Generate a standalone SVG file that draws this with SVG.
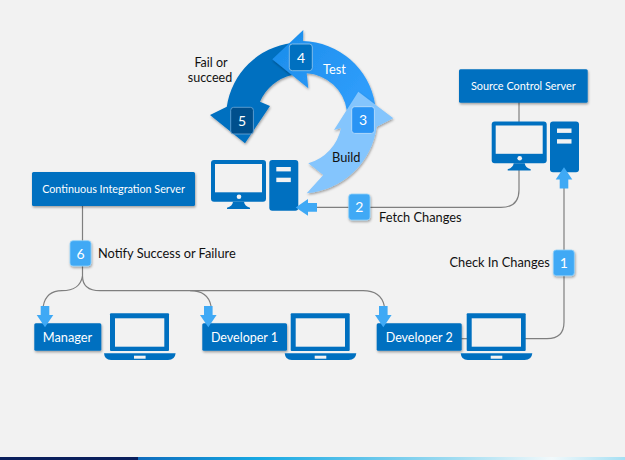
<svg xmlns="http://www.w3.org/2000/svg" width="625" height="460" viewBox="0 0 625 460">
<defs>
<filter id="sh" x="-20%" y="-20%" width="140%" height="150%"><feDropShadow dx="0.7" dy="1.5" stdDeviation="1" flood-color="#000" flood-opacity="0.35"/></filter>
<linearGradient id="strip" x1="0" x2="1" y1="0" y2="0">
<stop offset="0" stop-color="#0f6cbd"/><stop offset="0.25" stop-color="#17a9e3"/><stop offset="0.65" stop-color="#a0dcf1"/><stop offset="0.85" stop-color="#f2f9fb"/><stop offset="1" stop-color="#a5dff3"/>
</linearGradient>
<linearGradient id="testg" x1="0" y1="0" x2="1" y2="0.6"><stop offset="0" stop-color="#1a8cea"/><stop offset="1" stop-color="#2f9dfb"/></linearGradient>
<g id="laptop">
<rect x="0" y="0" width="59" height="37.7" rx="1" fill="#0070c0"/>
<rect x="5" y="5" width="49.3" height="28.4" fill="#f2f2f2"/>
<path d="M-6,40 H65.6 Q65,46.7 58,46.7 H1 Q-5.5,46.7 -6,40 Z" fill="#0070c0"/>
<rect x="24" y="42.4" width="11.6" height="3" fill="#f2f2f2"/>
</g>
<g id="pc">
<rect x="0" y="0" width="55" height="41.7" rx="3" fill="#0070c0"/>
<rect x="4" y="4" width="47" height="28.3" fill="#f2f2f2"/>
<circle cx="28" cy="36.8" r="2.3" fill="#f2f2f2"/>
<path d="M22,41.7 H33 Q33.5,46 39,47.8 V49 H16 V47.8 Q21.5,46 22,41.7 Z" fill="#0070c0"/>
<rect x="58.3" y="0" width="29" height="50.7" rx="3" fill="#0070c0"/>
<rect x="65.3" y="7" width="14.5" height="4.4" fill="#f2f2f2"/>
<rect x="65.3" y="17.7" width="14.5" height="4.4" fill="#f2f2f2"/>
</g>
<path id="down" d="M-4.3,0 H4.3 V9 H8.3 L0,21.3 L-8.3,9 H-4.3 Z" fill="#3fa9f5"/>
</defs>
<style>
.t{font-family:Lato,"Open Sans","Liberation Sans",sans-serif;font-size:12.8px;fill:#111}
.w{font-family:Lato,"Open Sans","Liberation Sans",sans-serif;fill:#fff;text-anchor:middle}
.box{fill:#0070c0;filter:url(#sh)}
.b{fill:#3fa9f5;stroke:#8fd0fa;stroke-width:.8;filter:url(#sh)}
.c{fill:none;stroke:#7f7f7f;stroke-width:1.2}
</style>
<rect width="625" height="460" fill="#f2f2f2"/>
<rect x="0" y="457" width="138" height="3" fill="#0a1f5c"/>
<rect x="138" y="457" width="487" height="3" fill="url(#strip)"/>

<g id="connectors">
<path class="c" d="M519,102 V122"/>
<path class="c" d="M519,170 V190 Q519,207.4 501,207.4 H316"/>
<path class="c" d="M564,188 V322 Q564,338.7 547,338.7 H525"/>
<path class="c" d="M461,338.7 H467"/>
<path class="c" d="M82.5,206 V276 Q82.5,290.7 100,290.7 H363 Q381,290.7 384.3,306"/>
<path class="c" d="M82.5,276 Q80,290.7 62,290.7 Q46,291 43.3,306"/>
<path class="c" d="M190,290.7 Q208,290.7 211,306"/>
</g>

<g id="cycle">
<path filter="url(#sh)" fill="#0070c0" d="M292,43 A75,75 0 0 0 226.800,106.700 L210,115 L245,143.300 L270,106 L260,101.700 A46,46 0 0 1 292,75 Z"/>
<path filter="url(#sh)" fill="url(#testg)" d="M375,104 A75,75 0 0 0 303,41 L303.300,30 L272.300,59.300 L308.300,88.300 L306.700,73.300 A43,43 0 0 1 346.700,110 Z"/>
<path filter="url(#sh)" fill="#84c5fd" d="M306.700,193.300 A77,77 0 0 0 376.700,126.700 L393.300,118.300 L358.300,91.700 L334,130 L341,128 A46,46 0 0 1 308.300,163.300 L323.300,175 Z"/>
<text class="t" x="323" y="74" style="fill:#fff">Test</text>
<text class="t" x="332" y="162">Build</text>
<text class="t" x="211" y="66.500" text-anchor="middle" style="font-size:12.5px">Fail or</text>
<text class="t" x="210" y="81.500" text-anchor="middle" style="font-size:12.5px">succeed</text>
</g>

<g id="badge-5"><rect x="230.700" y="107.300" width="22.700" height="26.700" rx="3" fill="#004f8c" stroke="#6fa9d8" stroke-width=".8"/><text class="w" x="242" y="125.500" font-size="14">5</text></g>
<g id="badge-4"><rect x="289.300" y="44" width="23" height="26.700" rx="3" fill="#0070c0" stroke="#9cc9ec" stroke-width=".8"/><text class="w" x="301" y="62.500" font-size="14">4</text></g>
<g id="badge-3"><rect x="351.700" y="106.700" width="22.700" height="26.700" rx="3" fill="#2a94f4" stroke="#c5e2fb" stroke-width=".8"/><text class="w" x="363" y="124.500" font-size="14">3</text></g>

<g id="ci-pc"><use href="#pc" x="211" y="160"/><use href="#down" transform="translate(317,207.400) rotate(90)"/></g>
<g id="badge-2"><rect class="b" x="348.700" y="194" width="21.300" height="26" rx="3"/><text class="w" x="359.300" y="212" font-size="14">2</text></g>
<g id="label-fetch"><text class="t" x="379" y="222">Fetch Changes</text></g>

<g id="source-control">
<rect class="box" x="459" y="69.300" width="128.700" height="33.400" rx="1.500"/>
<text class="w" x="523.300" y="90" font-size="10.900">Source Control Server</text>
</g>
<g id="source-pc"><use href="#pc" x="491.700" y="121.500"/><use href="#down" transform="translate(564,188.500) rotate(180)"/></g>

<g id="ci-server">
<rect class="box" x="32" y="172" width="163" height="34" rx="1.500"/>
<text class="w" x="113.500" y="193" font-size="10.800">Continuous Integration Server</text>
</g>

<g id="badge-6"><rect class="b" x="70" y="240.700" width="21" height="25.300" rx="3"/><text class="w" x="80.500" y="258.500" font-size="14">6</text></g>
<g id="label-notify"><text class="t" x="98" y="258">Notify Success or Failure</text></g>
<g id="badge-1"><rect class="b" x="553.300" y="250" width="21" height="25.700" rx="3"/><text class="w" x="563.800" y="268" font-size="14">1</text></g>
<g id="label-checkin"><text class="t" x="449.500" y="267">Check In Changes</text></g>

<g id="manager">
<rect class="box" x="34.300" y="323.300" width="67" height="27.400" rx="1.500"/>
<text class="w" x="67.500" y="342" font-size="12.800">Manager</text>
<use href="#down" x="45" y="306"/>
<use href="#laptop" x="110" y="313.300"/>
</g>
<g id="developer-1">
<rect class="box" x="202.300" y="323.300" width="84.700" height="27.400" rx="1.500"/>
<text class="w" x="244.500" y="342" font-size="12.500">Developer 1</text>
<use href="#down" x="208.300" y="306"/>
<use href="#laptop" x="290.700" y="313.300"/>
</g>
<g id="developer-2">
<rect class="box" x="376.700" y="323.300" width="85" height="27.400" rx="1.500"/>
<text class="w" x="419.300" y="342" font-size="12.500">Developer 2</text>
<use href="#down" x="383.300" y="306"/>
<use href="#laptop" x="466.700" y="313.300"/>
</g>
</svg>
